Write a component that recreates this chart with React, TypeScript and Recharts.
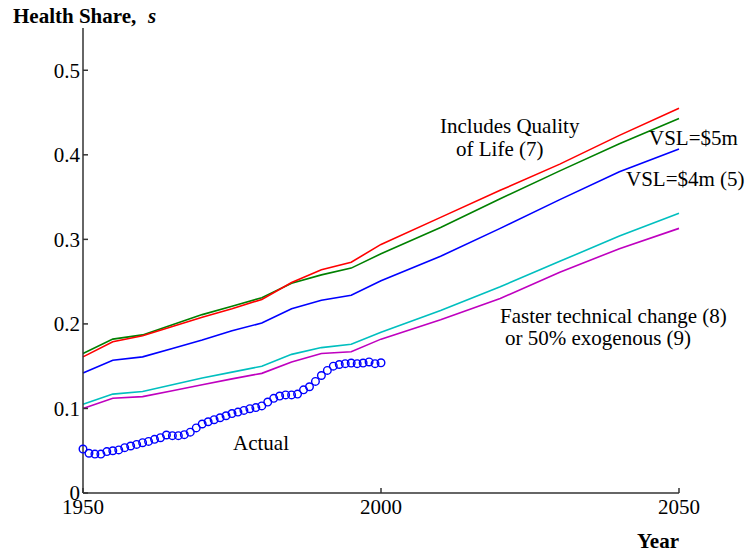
import React from "react";
import { ComposedChart, Line, XAxis, YAxis } from "recharts";

const years = [1950, 1955, 1960, 1965, 1970, 1975, 1980, 1985, 1990, 1995, 2000, 2010, 2020, 2030, 2040, 2050];
const qualityOfLife = [0.161, 0.179, 0.186, 0.197, 0.208, 0.218, 0.229, 0.249, 0.264, 0.273, 0.294, 0.326, 0.358, 0.389, 0.423, 0.455];
const vsl5m = [0.165, 0.182, 0.187, 0.199, 0.211, 0.221, 0.231, 0.248, 0.258, 0.266, 0.283, 0.314, 0.348, 0.381, 0.413, 0.443];
const vsl4m = [0.142, 0.157, 0.161, 0.171, 0.181, 0.192, 0.201, 0.218, 0.228, 0.234, 0.251, 0.28, 0.313, 0.347, 0.38, 0.407];
const fasterTech = [0.105, 0.117, 0.12, 0.128, 0.136, 0.143, 0.15, 0.164, 0.172, 0.176, 0.19, 0.216, 0.244, 0.274, 0.304, 0.331];
const exogenous50 = [0.1, 0.112, 0.114, 0.121, 0.128, 0.135, 0.1415, 0.155, 0.165, 0.167, 0.182, 0.205, 0.23, 0.261, 0.289, 0.313];

const actualYears = [
  1950, 1951, 1952, 1953, 1954, 1955, 1956, 1957, 1958, 1959,
  1960, 1961, 1962, 1963, 1964, 1965, 1966, 1967, 1968, 1969,
  1970, 1971, 1972, 1973, 1974, 1975, 1976, 1977, 1978, 1979,
  1980, 1981, 1982, 1983, 1984, 1985, 1986, 1987, 1988, 1989,
  1990, 1991, 1992, 1993, 1994, 1995, 1996, 1997, 1998, 1999,
  2000,
];
const actualShare = [
  0.052, 0.047, 0.046, 0.046, 0.049, 0.05, 0.051, 0.0536, 0.0556, 0.0575,
  0.0595, 0.061, 0.0635, 0.0654, 0.0686, 0.0678, 0.0678, 0.069, 0.072, 0.077,
  0.0816, 0.0843, 0.0867, 0.089, 0.0914, 0.094, 0.0957, 0.0977, 0.0997, 0.101,
  0.103, 0.1076, 0.112, 0.1147, 0.116, 0.116, 0.117, 0.122, 0.1257, 0.132,
  0.139, 0.145, 0.15, 0.152, 0.153, 0.1537, 0.153, 0.1537, 0.155, 0.153,
  0.154,
];

const xTicks = [1950, 2000, 2050];
const yTicks = [0, 0.1, 0.2, 0.3, 0.4, 0.5];

const projData = years.map((year, i) => ({
  year,
  quality: qualityOfLife[i],
  vsl5: vsl5m[i],
  vsl4: vsl4m[i],
  faster: fasterTech[i],
  exo: exogenous50[i],
}));
const actualData = actualYears.map((year, i) => ({ year, actual: actualShare[i] }));

const FONT = "Liberation Serif";
const AXIS = "#333333";
const txt: React.CSSProperties = { fontFamily: FONT, fontSize: 21 };
const tickStyle = { fill: "#000", fontSize: 21, fontFamily: FONT, style: { fontFamily: FONT } };

export default function App() {
  return (
    <div style={{ position: "absolute", left: 0, top: 0, width: 745, height: 557, background: "#fff", fontFamily: FONT }}>
      <ComposedChart
        width={745}
        height={557}
        margin={{ top: 28, right: 66, bottom: 34, left: 23 }}
        style={{ fontFamily: FONT }}
      >
        <XAxis
          dataKey="year"
          type="number"
          domain={[1950, 2050]}
          ticks={xTicks}
          allowDuplicatedCategory={false}
          height={30}
          tickSize={-5}
          tickMargin={11}
          axisLine={{ stroke: AXIS, strokeWidth: 1.5 }}
          tickLine={{ stroke: AXIS, strokeWidth: 1.5 }}
          tick={tickStyle}
        />
        <YAxis
          type="number"
          domain={[0, 0.55]}
          ticks={yTicks}
          width={60}
          tickSize={-5}
          tickMargin={8}
          axisLine={{ stroke: AXIS, strokeWidth: 1.5 }}
          tickLine={{ stroke: AXIS, strokeWidth: 1.5 }}
          tick={tickStyle}
        />
        <Line data={projData} dataKey="exo" type="linear" stroke="#bf00bf" strokeWidth={1.6} dot={false} isAnimationActive={false} />
        <Line data={projData} dataKey="faster" type="linear" stroke="#00bfbf" strokeWidth={1.6} dot={false} isAnimationActive={false} />
        <Line data={projData} dataKey="vsl4" type="linear" stroke="#0000ff" strokeWidth={1.6} dot={false} isAnimationActive={false} />
        <Line data={projData} dataKey="vsl5" type="linear" stroke="#008000" strokeWidth={1.6} dot={false} isAnimationActive={false} />
        <Line data={projData} dataKey="quality" type="linear" stroke="#ff0000" strokeWidth={1.6} dot={false} isAnimationActive={false} />
        <Line
          data={actualData}
          dataKey="actual"
          type="linear"
          stroke="none"
          dot={{ r: 3.8, stroke: "#0000ff", strokeWidth: 1.4, fill: "none" }}
          isAnimationActive={false}
        />
      </ComposedChart>
      <svg
        width={745}
        height={557}
        style={{ position: "absolute", left: 0, top: 0, pointerEvents: "none" }}
      >
        <text x={13} y={23} style={txt} fontWeight="bold" fill="#000">
          Health Share,
          <tspan x={148} fontStyle="italic">s</tspan>
        </text>
        <text x={637} y={548} style={txt} fontWeight="bold" fill="#000">Year</text>
        <text x={440} y={133} style={txt} fill="#000">Includes Quality</text>
        <text x={456} y={156} style={txt} fill="#000">of Life (7)</text>
        <text x={649} y={145} style={txt} fill="#000">VSL=$5m</text>
        <text x={626} y={186} style={txt} fill="#000">VSL=$4m (5)</text>
        <text x={500} y={323} style={txt} fill="#000">Faster technical change (8)</text>
        <text x={505} y={345} style={txt} fill="#000">or 50% exogenous (9)</text>
        <text x={233} y={450} style={txt} fill="#000">Actual</text>
      </svg>
    </div>
  );
}
